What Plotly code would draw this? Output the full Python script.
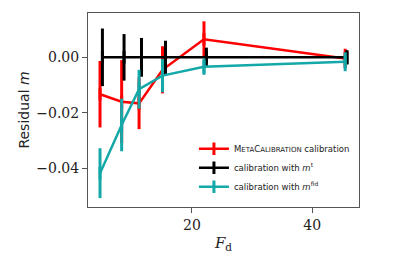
import plotly.graph_objects as go

x_main = [4.7, 8.3, 11.2, 15.1, 22.0, 45.5]
x_true = [5.1, 8.7, 11.6, 15.6, 22.4, 45.8]

mc_y = [-0.0133, -0.0160, -0.0166, -0.0045, 0.0065, -0.0004]
mc_err = [0.0120, 0.0150, 0.0093, 0.0085, 0.0065, 0.0035]

true_y = [0.0, 0.0, 0.0, 0.0, 0.0, 0.0]
true_err = [0.0104, 0.0084, 0.0070, 0.0060, 0.0035, 0.0026]

fid_y = [-0.0418, -0.0244, -0.0115, -0.0066, -0.0034, -0.0016]
fid_err = [0.0090, 0.0095, 0.0070, 0.0060, 0.0029, 0.0034]

names = [
    "M<span style='font-size:7px'>ETA</span>C<span style='font-size:7px'>ALIBRATION</span> calibration",
    "calibration with <i>m</i><sup>t</sup>",
    "calibration with <i>m</i><sup>fid</sup>",
]
colors = ["#ff0000", "#000000", "#14a8a8"]

fig = go.Figure()
for xs, ys, es, nm, c in [
    (x_main, mc_y, mc_err, names[0], colors[0]),
    (x_true, true_y, true_err, names[1], colors[1]),
    (x_main, fid_y, fid_err, names[2], colors[2]),
]:
    fig.add_trace(go.Scatter(
        x=xs, y=ys, name=nm, mode="lines+markers",
        line=dict(color=c, width=2.5),
        marker=dict(symbol="line-ns", size=9, line=dict(color=c, width=3), color=c),
        error_y=dict(type="data", array=es, visible=True, color=c, thickness=3, width=0),
    ))

serif = "DejaVu Serif"
fig.update_layout(
    width=391, height=258,
    margin=dict(l=80, r=40, t=5, b=59),
    paper_bgcolor="white", plot_bgcolor="white",
    font=dict(family=serif, size=14, color="#222"),
    showlegend=True,
    legend=dict(
        x=0.985, y=0.03, xanchor="right", yanchor="bottom",
        bgcolor="rgba(255,255,255,0.8)",
        font=dict(family="DejaVu Sans", size=8.5, color="#222"),
        itemwidth=30, tracegroupgap=0,
    ),
    xaxis=dict(
        range=[2.7, 47.8], tickvals=[20, 40], ticks="outside", ticklen=5,
        tickfont=dict(family=serif, size=14),
        showgrid=False, zeroline=False, showline=True, mirror=True,
        linecolor="#555", linewidth=1, tickcolor="#555", automargin=False,
        title=dict(text="<i>F</i><sub>d</sub>", font=dict(family=serif, size=15), standoff=5),
    ),
    yaxis=dict(
        range=[-0.054, 0.016], tickvals=[0.0, -0.02, -0.04],
        ticktext=["0.00", "\u22120.02", "\u22120.04"],
        tickfont=dict(family=serif, size=14),
        ticks="outside", ticklen=5,
        showgrid=False, zeroline=False, showline=True, mirror=True,
        linecolor="#555", linewidth=1, tickcolor="#555", automargin=False,
        title=dict(text="Residual <i>m</i>", font=dict(family="DejaVu Sans", size=14), standoff=3),
    ),
)

fig.write_html("out.html")
